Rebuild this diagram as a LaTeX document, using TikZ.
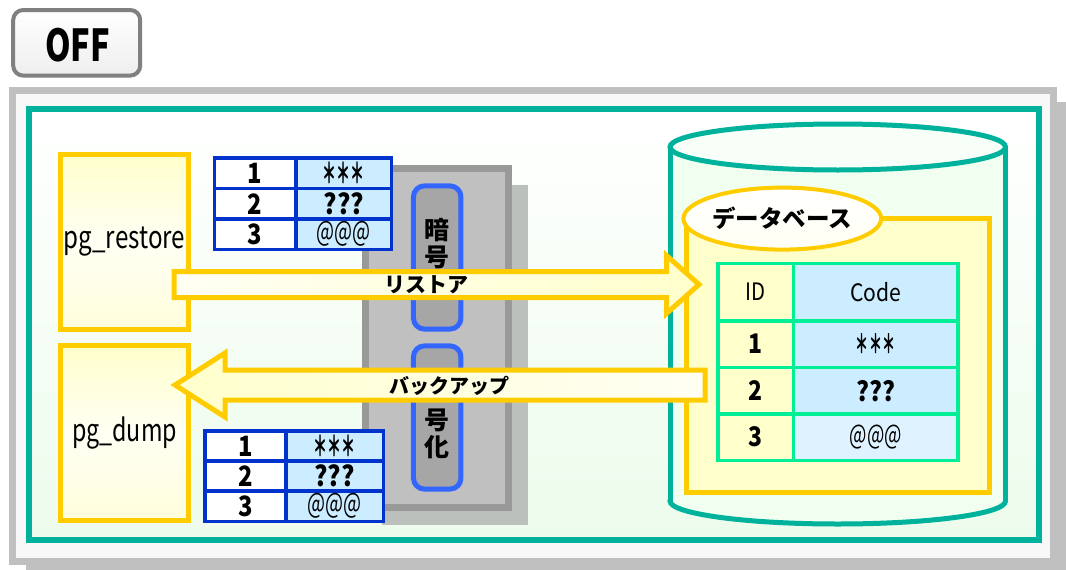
\documentclass[tikz,border=0pt]{standalone}
\usepackage{fontspec}
\usepackage{graphicx}
\setmainfont{Noto Sans CJK JP}
\usetikzlibrary{shapes.geometric}

\definecolor{frameteal}{RGB}{0,178,155}
\definecolor{tealtint}{RGB}{236,252,236}
\definecolor{goldline}{RGB}{255,204,0}
\definecolor{paleyel}{RGB}{255,255,204}
\definecolor{yelwhite}{RGB}{255,255,244}
\definecolor{yelmid}{RGB}{255,255,220}
\definecolor{paleblue}{RGB}{204,236,255}
\definecolor{lightblue}{RGB}{222,242,255}
\definecolor{tblue}{RGB}{0,51,204}
\definecolor{pillblue}{RGB}{51,102,255}
\definecolor{mint}{RGB}{0,238,150}
\definecolor{panelgray}{RGB}{192,192,192}
\definecolor{paneltint}{RGB}{248,248,248}
\definecolor{boxgray}{RGB}{192,192,192}
\definecolor{boxframe}{RGB}{153,153,153}
\definecolor{pillgray}{RGB}{166,166,166}
\definecolor{shadowgray}{RGB}{188,192,188}
\definecolor{cylfill}{RGB}{240,255,240}
\definecolor{btnline}{RGB}{128,128,128}
\definecolor{btnshade}{RGB}{238,238,238}

\newcommand{\fs}[1]{\fontsize{#1}{#1}\selectfont}
\newcommand{\nar}[2]{\scalebox{#1}[1]{#2}}
% three narrow full-width asterisks set on a fixed pitch
\newcommand{\onestar}[1]{\makebox[#1][c]{\nar{0.5}{＊}}}
\newcommand{\stars}[1]{\onestar{#1}\onestar{#1}\onestar{#1}}

\begin{document}
\begin{tikzpicture}[x=1pt,y=-1pt,
  txt/.style={inner sep=0pt, outer sep=0pt, text=black},
  tcell/.style={draw=tblue, line width=3.5, inner sep=0pt, minimum height=30.5,
                font=\fs{28}\bfseries},
  tleft/.style={tcell, fill=white, minimum width=81.7},
  tright/.style={tcell, fill=paleblue, minimum width=95.7},
  dcell/.style={draw=mint, line width=3.5, inner sep=0pt, font=\fs{24}},
  dleft/.style={dcell, fill=paleyel, minimum width=75.5},
  dright/.style={dcell, fill=paleblue, minimum width=164.9},
  pgbox/.style={draw=goldline, line width=5, top color=paleyel, bottom color=yelmid,
                middle color=yelwhite, minimum width=127.4, minimum height=175,
                inner sep=0pt, font=\fs{31}},
  pill/.style={draw=pillblue, line width=5, fill=pillgray, rounded corners=11,
               minimum width=47.5, minimum height=143.2, inner sep=0pt},
  blockarrow/.style={draw=goldline, line width=5, miter limit=10},
  lbl/.style={txt, font=\fs{21}\bfseries}
]
\useasboundingbox (0,0) rectangle (1066,570);

% outer panel with its drop shadow and the teal frame
\fill[panelgray] (26,102) rectangle (1072,575);
\draw[panelgray, line width=7, fill=paneltint] (12.5,90) rectangle (1053.5,561.5);
\draw[draw=frameteal, line width=6, top color=white, bottom color=tealtint]
  (28.5,108.5) rectangle (1038.5,539.5);

% encryption block
\fill[shadowgray] (382,185) rectangle (528,524.5);
\node[draw=boxframe, line width=7, fill=boxgray, minimum width=143.5,
      minimum height=338.5, inner sep=0pt] (cryptobox) at (436.75,337.75) {};
\node[pill] (pilltop) at (437.2,257.5) {};
\node[pill] (pillbot) at (437.2,417.5) {};
\node[txt, align=center, font=\fontsize{25}{27}\selectfont\bfseries] (encA) at (437,244) {暗\\号};
\node[txt, align=center, font=\fontsize{25}{27}\selectfont\bfseries] (encB) at (437,434) {号\\化};

% client tools
\node[pgbox] (restore) at (124.5,241.75) {\nar{0.78}{pg\_restore}};
\node[pgbox] (dump) at (124.5,433.2) {\nar{0.75}{pg\_dump}};

% dump file contents (upper)
\node[tleft]  (ua1) at (255.15,173.25) {\nar{0.85}{1}};
\node[tright] (ub1) at (343.85,173.25) {\stars{14pt}};
\node[tleft]  (ua2) at (255.15,203.75) {\nar{0.85}{2}};
\node[tright] (ub2) at (343.85,203.75) {\nar{0.9}{???}};
\node[tleft]  (ua3) at (255.15,234.25) {\nar{0.85}{3}};
\node[tright] (ub3) at (343.85,234.25) {\nar{0.68}{\mdseries @@@}};

% dump file contents (lower)
\node[tleft, minimum width=81]  (la1) at (245.5,446) {\nar{0.85}{1}};
\node[tright, minimum width=97.3] (lb1) at (334.65,446) {\stars{14pt}};
\node[tleft, minimum width=81]  (la2) at (245.5,476) {\nar{0.85}{2}};
\node[tright, minimum width=97.3] (lb2) at (334.65,476) {\nar{0.9}{???}};
\node[tleft, minimum width=81]  (la3) at (245.5,506) {\nar{0.85}{3}};
\node[tright, minimum width=97.3] (lb3) at (334.65,506) {\nar{0.68}{\mdseries @@@}};

% database cylinder
\filldraw[fill=cylfill, draw=frameteal, line width=5]
  (837.75,501) ellipse [x radius=167.75, y radius=23];
\fill[cylfill] (670,147) rectangle (1005.5,501);
\draw[frameteal, line width=5] (670,147) -- (670,501) (1005.5,147) -- (1005.5,501);
\filldraw[fill=cylfill!50!white, draw=frameteal, line width=5]
  (837.75,147) ellipse [x radius=167.75, y radius=23];

% database contents
\node[draw=goldline, line width=5, fill=paleyel, minimum width=303.5,
      minimum height=273.4, inner sep=0pt] (dbbox) at (837.75,355.3) {};
\node[ellipse, draw=goldline, line width=4, top color=white, bottom color=yelwhite,
      minimum width=190.5, minimum height=62, inner sep=0pt,
      font=\fs{23.5}\bfseries] (dblabel) at (782.3,218.6) {データベース};

\node[dleft, minimum height=57.4]  (hid)   at (755.55,292.1) {\nar{0.85}{ID}};
\node[dright, minimum height=57.4] (hcode) at (875.75,292.1) {\nar{0.88}{Code}};
\node[dleft, minimum height=46.6, font=\fs{27}\bfseries]  (d1) at (755.55,344.1) {\nar{0.85}{1}};
\node[dright, minimum height=46.6, font=\fs{26}\bfseries] (c1) at (875.75,344.1) {\stars{13.5pt}};
\node[dleft, minimum height=46.6, font=\fs{27}\bfseries]  (d2) at (755.55,390.7) {\nar{0.85}{2}};
\node[dright, minimum height=46.6, font=\fs{27}\bfseries] (c2) at (875.75,390.7) {\nar{0.9}{???}};
\node[dleft, minimum height=46.3, font=\fs{27}\bfseries]  (d3) at (755.55,437.15) {\nar{0.85}{3}};
\node[dright, minimum height=46.3, fill=lightblue, font=\fs{27}] (c3) at (875.75,437.15) {\nar{0.68}{@@@}};

% restore and backup flows
\draw[blockarrow, left color=yelwhite, right color=paleyel]
  (174,271.5) -- (666.5,271.5) -- (666.5,255.5) -- (699,284.5) -- (666.5,313.5)
  -- (666.5,297.5) -- (174,297.5) -- cycle;
\node[lbl] (restorelbl) at (426.7,285) {リストア};

\draw[blockarrow, left color=paleyel, right color=yelwhite]
  (705,370) -- (225,370) -- (225,353) -- (175,385) -- (225,417) -- (225,400)
  -- (705,400) -- cycle;
\node[lbl, font=\fs{20}\bfseries] (backuplbl) at (449,386) {バックアップ};

% state button
\node[draw=btnline, line width=4, rounded corners=10, top color=white,
      bottom color=btnshade, minimum width=127, minimum height=65.6,
      inner sep=0pt] (offbtn) at (76.7,42.8) {};
\node[txt, font=\fs{44}\bfseries] (offtxt) at (77.5,44.7) {\nar{0.74}{OFF}};
\end{tikzpicture}
\end{document}
